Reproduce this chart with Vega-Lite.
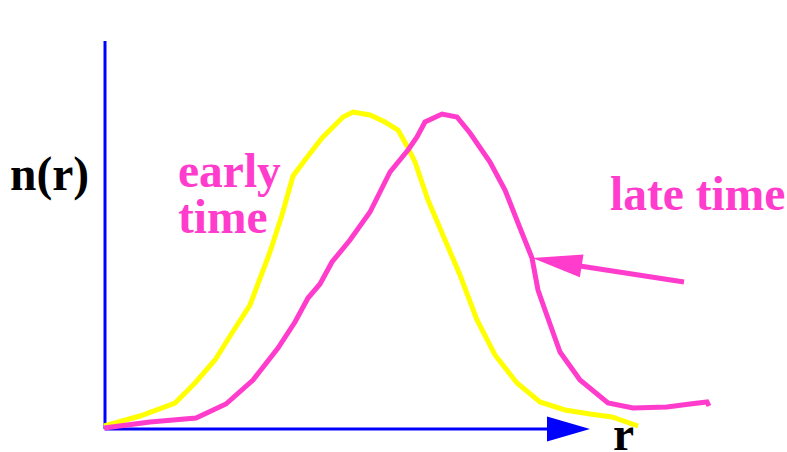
{
  "$schema": "https://vega.github.io/schema/vega-lite/v6.json",
  "width": 787,
  "height": 452,
  "autosize": "none",
  "padding": 0,
  "background": "white",
  "config": {"view": {"stroke": null}},
  "datasets": {
    "curves": [
      {"s":"early","o":1,"x":104,"y":426},{"s":"early","o":2,"x":140,"y":416},{"s":"early","o":3,"x":175,"y":403},{"s":"early","o":4,"x":195,"y":383},{"s":"early","o":5,"x":215,"y":360},{"s":"early","o":6,"x":232,"y":333},{"s":"early","o":7,"x":250,"y":305},{"s":"early","o":8,"x":270,"y":252},{"s":"early","o":9,"x":282,"y":215},{"s":"early","o":10,"x":293,"y":176},{"s":"early","o":11,"x":305,"y":160},{"s":"early","o":12,"x":322,"y":138},{"s":"early","o":13,"x":343,"y":117},{"s":"early","o":14,"x":353,"y":112},{"s":"early","o":15,"x":370,"y":115},{"s":"early","o":16,"x":385,"y":122},{"s":"early","o":17,"x":398,"y":130},{"s":"early","o":18,"x":407,"y":146},{"s":"early","o":19,"x":415,"y":162},{"s":"early","o":20,"x":428,"y":200},{"s":"early","o":21,"x":445,"y":240},{"s":"early","o":22,"x":460,"y":275},{"s":"early","o":23,"x":477,"y":320},{"s":"early","o":24,"x":495,"y":355},{"s":"early","o":25,"x":517,"y":383},{"s":"early","o":26,"x":540,"y":402},{"s":"early","o":27,"x":565,"y":410},{"s":"early","o":28,"x":590,"y":414},{"s":"early","o":29,"x":612,"y":417},{"s":"early","o":30,"x":638,"y":426},
      {"s":"late","o":1,"x":104,"y":428},{"s":"late","o":2,"x":150,"y":422},{"s":"late","o":3,"x":196,"y":418},{"s":"late","o":4,"x":226,"y":404},{"s":"late","o":5,"x":253,"y":380},{"s":"late","o":6,"x":278,"y":348},{"s":"late","o":7,"x":295,"y":322},{"s":"late","o":8,"x":308,"y":298},{"s":"late","o":9,"x":320,"y":284},{"s":"late","o":10,"x":332,"y":262},{"s":"late","o":11,"x":350,"y":240},{"s":"late","o":12,"x":370,"y":212},{"s":"late","o":13,"x":390,"y":172},{"s":"late","o":14,"x":408,"y":150},{"s":"late","o":15,"x":417,"y":137},{"s":"late","o":16,"x":425,"y":122},{"s":"late","o":17,"x":442,"y":114},{"s":"late","o":18,"x":457,"y":117},{"s":"late","o":19,"x":470,"y":133},{"s":"late","o":20,"x":490,"y":162},{"s":"late","o":21,"x":505,"y":190},{"s":"late","o":22,"x":520,"y":228},{"s":"late","o":23,"x":532,"y":258},{"s":"late","o":24,"x":538,"y":290},{"s":"late","o":25,"x":545,"y":310},{"s":"late","o":26,"x":560,"y":352},{"s":"late","o":27,"x":580,"y":380},{"s":"late","o":28,"x":608,"y":403},{"s":"late","o":29,"x":633,"y":408},{"s":"late","o":30,"x":667,"y":407},{"s":"late","o":31,"x":690,"y":404},{"s":"late","o":32,"x":707,"y":402},{"s":"late","o":33,"x":709,"y":406}
    ],
    "axes": [
      {"x":105,"y":41,"x2":105,"y2":429},
      {"x":105,"y":429,"x2":552,"y2":429}
    ],
    "labels": [
      {"t":"n(r)","x":10,"y":190,"c":"#000000"},
      {"t":"early","x":178,"y":187,"c":"#ff3ccc"},
      {"t":"time","x":178,"y":233,"c":"#ff3ccc"},
      {"t":"late time","x":610,"y":210,"c":"#ff3ccc"},
      {"t":"r","x":613,"y":450,"c":"#000000"}
    ]
  },
  "layer": [
    {
      "data": {"name": "axes"},
      "mark": {"type": "rule", "color": "#0000ff", "strokeWidth": 3},
      "encoding": {
        "x": {"field": "x", "type": "quantitative", "scale": {"domain": [0, 787], "nice": false, "zero": false}, "axis": null},
        "y": {"field": "y", "type": "quantitative", "scale": {"domain": [0, 452], "reverse": true, "nice": false, "zero": false}, "axis": null},
        "x2": {"field": "x2"},
        "y2": {"field": "y2"}
      }
    },
    {
      "data": {"values": [{"x": 568.5, "y": 429}]},
      "mark": {"type": "point", "shape": "M1,0L-1,-0.58L-1,0.58Z", "size": 1849, "filled": true, "color": "#0000ff", "opacity": 1},
      "encoding": {
        "x": {"field": "x", "type": "quantitative"},
        "y": {"field": "y", "type": "quantitative"}
      }
    },
    {
      "data": {"name": "curves"},
      "mark": {"type": "line", "strokeWidth": 5, "strokeJoin": "miter"},
      "encoding": {
        "x": {"field": "x", "type": "quantitative"},
        "y": {"field": "y", "type": "quantitative"},
        "order": {"field": "o", "type": "quantitative"},
        "color": {"field": "s", "type": "nominal", "scale": {"domain": ["early", "late"], "range": ["#ffff00", "#ff3ccc"]}, "legend": null}
      }
    },
    {
      "data": {"values": [{"x": 580, "y": 266, "x2": 684, "y2": 282}]},
      "mark": {"type": "rule", "color": "#ff3ccc", "strokeWidth": 5},
      "encoding": {
        "x": {"field": "x", "type": "quantitative"},
        "y": {"field": "y", "type": "quantitative"},
        "x2": {"field": "x2"},
        "y2": {"field": "y2"}
      }
    },
    {
      "data": {"values": [{"x": 557, "y": 262, "a": 189}]},
      "mark": {"type": "point", "shape": "M1,0L-1,-0.46L-1,0.46Z", "size": 2500, "filled": true, "color": "#ff3ccc", "opacity": 1},
      "encoding": {
        "x": {"field": "x", "type": "quantitative"},
        "y": {"field": "y", "type": "quantitative"},
        "angle": {"field": "a", "type": "quantitative", "scale": null}
      }
    },
    {
      "data": {"name": "labels"},
      "mark": {"type": "text", "align": "left", "baseline": "alphabetic", "font": "Liberation Serif", "fontWeight": "bold", "fontSize": 47.5},
      "encoding": {
        "x": {"field": "x", "type": "quantitative"},
        "y": {"field": "y", "type": "quantitative"},
        "text": {"field": "t"},
        "color": {"field": "c", "type": "nominal", "scale": null}
      }
    }
  ]
}
